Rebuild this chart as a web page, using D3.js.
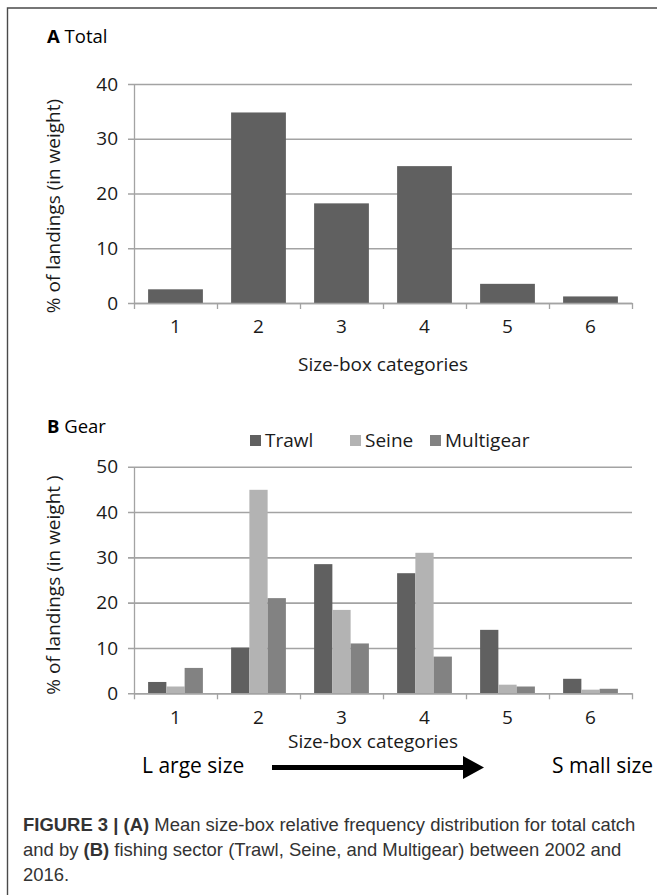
<!DOCTYPE html>
<html>
<head>
<meta charset="utf-8">
<script src="https://cdn.jsdelivr.net/npm/d3@7"></script>
<style>
  html, body { margin: 0; padding: 0; background: #fff; }
  svg { display: block; }
</style>
</head>
<body>
<svg id="chart" width="657" height="895"></svg>
<script>
// ---------- data ----------
const categories = ["1", "2", "3", "4", "5", "6"];
const totalValues = [2.5, 34.8, 18.2, 25.0, 3.5, 1.2];
const seriesNames = ["Trawl", "Seine", "Multigear"];
const trawlValues = [2.5, 10.1, 28.5, 26.5, 14.0, 3.2];
const seineValues = [1.5, 44.9, 18.4, 31.0, 1.9, 0.8];
const multigearValues = [5.6, 21.0, 11.0, 8.1, 1.5, 1.0];
const yTicksA = [0, 10, 20, 30, 40];
const yTicksB = [0, 10, 20, 30, 40, 50];

// ---------- styling ----------
const colors = { Trawl: "#606060", Seine: "#b3b3b3", Multigear: "#828282" };
const gridColor = "#a3a3a3";
const font = "'Open Sans', 'Noto Sans', sans-serif";
const textColor = "#1a1a1a";

const svg = d3.select("#chart");

// frame
svg.append("path")
  .attr("d", "M7.5,900 L7.5,8 L660,8")
  .attr("fill", "none").attr("stroke", "#4a4a4a").attr("stroke-width", 1.4);

const x0 = 134, x1 = 632;
const x = d3.scaleBand().domain(categories).range([x0, x1]).paddingInner(0.34).paddingOuter(0.17);
const xb = d3.scaleLinear().domain([0, categories.length]).range([x0, x1]);

function drawPanel(yScale, ticks) {
  const g = svg.append("g");
  const yAxis = d3.axisLeft(yScale).tickValues(ticks).tickSizeInner(6).tickSizeOuter(0).tickPadding(10);
  const ya = g.append("g").attr("transform", `translate(${x0},0)`).call(yAxis);
  ya.select(".domain").attr("stroke", gridColor).attr("stroke-width", 1.3);
  ya.selectAll(".tick line").attr("x1", -6).attr("x2", x1 - x0).attr("stroke", gridColor).attr("stroke-width", 1.6);
  ya.selectAll(".tick text").attr("font-family", font).attr("font-size", 19).attr("fill", textColor);
  return g;
}

function drawXAxis(yZero, labelBaseline) {
  const g = svg.append("g");
  const xa = g.append("g").attr("transform", `translate(0,${yZero})`)
    .call(d3.axisBottom(xb).tickValues(d3.range(categories.length + 1)).tickSizeInner(6).tickSizeOuter(0).tickFormat(""));
  xa.select(".domain").attr("stroke", gridColor).attr("stroke-width", 1.6);
  xa.selectAll(".tick line").attr("stroke", gridColor).attr("stroke-width", 1.3);
  const la = g.append("g").attr("transform", `translate(0,${yZero})`)
    .call(d3.axisBottom(x).tickSize(0).tickPadding(labelBaseline - yZero - 15));
  la.select(".domain").remove();
  la.selectAll(".tick text").attr("font-family", font).attr("font-size", 19).attr("fill", textColor);
}

// ---------- Panel A ----------
const yA = d3.scaleLinear().domain([0, 40]).range([303, 84]);
const titleA = svg.append("text").attr("x", 47).attr("y", 43)
  .attr("font-family", font).attr("font-size", 18.5).attr("fill", "#000");
titleA.append("tspan").attr("font-weight", "bold").text("A");
titleA.append("tspan").text(" Total");

drawPanel(yA, yTicksA);
svg.append("g").selectAll("rect").data(totalValues).join("rect")
  .attr("x", (d, i) => x(categories[i]))
  .attr("width", x.bandwidth())
  .attr("y", d => yA(d))
  .attr("height", d => yA(0) - yA(d))
  .attr("fill", colors.Trawl);
drawXAxis(yA(0), 335);

svg.append("text").attr("x", 383).attr("y", 371).attr("text-anchor", "middle")
  .attr("font-family", font).attr("font-size", 19).attr("fill", textColor).text("Size-box categories");
svg.append("text").attr("transform", `translate(53,206) rotate(-90)`).attr("text-anchor", "middle")
  .attr("dominant-baseline", "central")
  .attr("font-family", font).attr("font-size", 19).attr("fill", textColor).text("% of landings (in weight)");

// ---------- Panel B ----------
const yB = d3.scaleLinear().domain([0, 50]).range([693.3, 466.7]);
const titleB = svg.append("text").attr("x", 47).attr("y", 433)
  .attr("font-family", font).attr("font-size", 18.5).attr("fill", "#000");
titleB.append("tspan").attr("font-weight", "bold").text("B");
titleB.append("tspan").text(" Gear");

// legend
const legendX = [250, 350, 430];
const lg = svg.append("g");
seriesNames.forEach((s, i) => {
  lg.append("rect").attr("x", legendX[i]).attr("y", 435).attr("width", 11).attr("height", 11).attr("fill", colors[s]);
  lg.append("text").attr("x", legendX[i] + 15).attr("y", 447)
    .attr("font-family", font).attr("font-size", 19).attr("fill", textColor).text(s);
});

drawPanel(yB, yTicksB);
const xs = d3.scaleBand().domain(seriesNames).range([0, x.bandwidth()]);
const seriesData = { Trawl: trawlValues, Seine: seineValues, Multigear: multigearValues };
const gB = svg.append("g");
seriesNames.forEach(s => {
  gB.append("g").selectAll("rect").data(seriesData[s]).join("rect")
    .attr("x", (d, i) => x(categories[i]) + xs(s))
    .attr("width", xs.bandwidth())
    .attr("y", d => yB(d))
    .attr("height", d => yB(0) - yB(d))
    .attr("fill", colors[s]);
});
drawXAxis(yB(0), 726);

svg.append("text").attr("x", 373).attr("y", 748).attr("text-anchor", "middle")
  .attr("font-family", font).attr("font-size", 19).attr("fill", textColor).text("Size-box categories");
svg.append("text").attr("transform", `translate(53,585) rotate(-90)`).attr("text-anchor", "middle")
  .attr("dominant-baseline", "central")
  .attr("font-family", font).attr("font-size", 19).attr("fill", textColor).text("% of landings (in weight )");

// size arrow
svg.append("text").attr("x", 142).attr("y", 773)
  .attr("font-family", font).attr("font-size", 21).attr("fill", "#000").text("L arge size");
svg.append("path")
  .attr("d", "M272,765 L463,765 L463,756 L484,767.5 L463,779 L463,770 L272,770 Z")
  .attr("fill", "#000");
svg.append("text").attr("x", 552).attr("y", 773)
  .attr("font-family", font).attr("font-size", 21).attr("fill", "#000").text("S mall size");

// ---------- caption ----------
const capFont = "'Liberation Sans', Arial, sans-serif";
const capLines = [
  [["FIGURE 3 | (A)", true], [" Mean size-box relative frequency distribution for total catch", false]],
  [["and by ", false], ["(B)", true], [" fishing sector (Trawl, Seine, and Multigear) between 2002 and", false]],
  [["2016.", false]]
];
const capBaselines = [831, 856, 881];
const capG = svg.append("g");
capLines.forEach((parts, li) => {
  const t = capG.append("text").attr("x", 23).attr("y", capBaselines[li])
    .attr("font-family", capFont).attr("font-size", 15.5).attr("fill", "#333");
  parts.forEach(([str, b]) => {
    t.append("tspan").attr("font-weight", b ? "bold" : "normal").text(str);
  });
});
const first = capG.select("text").node();
const w = first.getComputedTextLength();
const fs = 15.5 * 613 / w;
capG.selectAll("text").attr("font-size", fs.toFixed(2));
</script>
</body>
</html>
